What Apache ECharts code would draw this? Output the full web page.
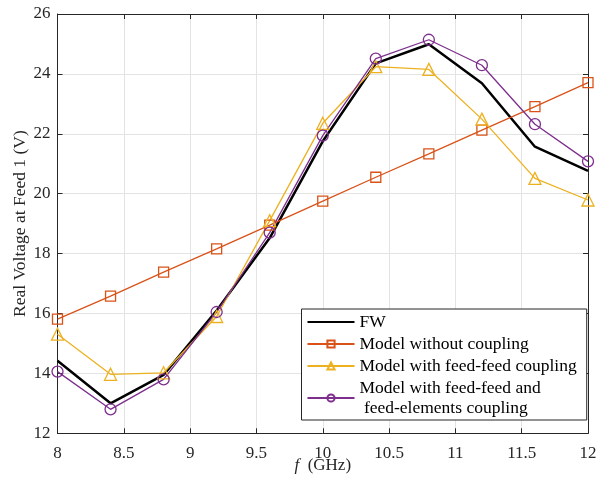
<!DOCTYPE html>
<html>
<head>
<meta charset="utf-8">
<script src="https://cdn.jsdelivr.net/npm/echarts@6/dist/echarts.min.js"></script>
<style>html,body{margin:0;padding:0;background:#fff}#c{width:600px;height:482px}</style>
</head>
<body>
<div id="c"></div>
<script>
var freqs = [8, 8.4, 8.8, 9.2, 9.6, 10, 10.4, 10.8, 11.2, 11.6, 12];
var fw = [14.42, 13.00, 13.95, 16.10, 18.52, 21.75, 24.35, 24.99, 23.69, 21.57, 20.76];
var noCoupling = [15.81, 16.58, 17.38, 18.16, 18.95, 19.75, 20.55, 21.33, 22.12, 22.91, 23.71];
var feedFeed = [15.31, 13.97, 14.02, 15.90, 19.10, 22.35, 24.24, 24.15, 22.49, 20.51, 19.79];
var feedFeedElem = [14.06, 12.80, 13.80, 16.05, 18.70, 21.94, 24.51, 25.14, 24.29, 22.32, 21.08];
var seriesNames = ['FW', 'Model without coupling', 'Model with feed-feed coupling', 'Model with feed-feed and\n feed-elements coupling'];
var xTicks = [8, 8.5, 9, 9.5, 10, 10.5, 11, 11.5, 12];
var yTicks = [12, 14, 16, 18, 20, 22, 24, 26];

function pairs(ys){ return freqs.map(function(x,i){ return [x, ys[i]]; }); }

var font = '"Liberation Serif", "Times New Roman", serif';
var axisCol = '#262626';
var chart = echarts.init(document.getElementById('c'));

function mk(name, data, color, width, symbol, size){
  return {
    name: name, type: 'line', data: pairs(data),
    symbol: symbol, symbolSize: size,
    lineStyle: {color: color, width: width},
    itemStyle: {color: 'rgba(255,255,255,0)', borderColor: color, borderWidth: 1.3},
    emphasis: {disabled: true}, animation: false,
    xAxisIndex: 0, yAxisIndex: 0
  };
}

var baseX = {
  type: 'value', min: 8, max: 12, interval: 0.5,
  axisLine: {show: true, lineStyle: {color: axisCol, width: 1}},
  axisTick: {show: true, inside: true, length: 5, lineStyle: {color: axisCol}},
  splitLine: {show: false}
};
var baseY = {
  type: 'value', min: 12, max: 26, interval: 2,
  axisLine: {show: true, lineStyle: {color: axisCol, width: 1}},
  axisTick: {show: true, inside: true, length: 5, lineStyle: {color: axisCol}},
  splitLine: {show: false}
};

chart.setOption({
  backgroundColor: '#fff',
  animation: false,
  grid: {left: 57.5, right: 12, top: 14, bottom: 48.7, containLabel: false, outerBoundsMode: 'none'},
  xAxis: [
    Object.assign({}, baseX, {
      position: 'bottom',
      splitLine: {show: true, lineStyle: {color: '#e3e3e3', width: 1}},
      axisLabel: {color: axisCol, fontFamily: font, fontSize: 17, margin: 12,
        formatter: function(v){ return xTicks.indexOf(v) >= 0 ? String(v) : ''; }},
      name: '{i|f}  (GHz)', nameLocation: 'middle', nameGap: 24, nameMoveOverlap: false,
      nameTextStyle: {color: axisCol, fontFamily: font, fontSize: 17,
        rich: {i: {fontStyle: 'italic', fontFamily: font, fontSize: 17, color: axisCol}}}
    }),
    Object.assign({}, baseX, {position: 'top', axisLabel: {show: false}})
  ],
  yAxis: [
    Object.assign({}, baseY, {
      position: 'left',
      splitLine: {show: true, lineStyle: {color: '#e3e3e3', width: 1}},
      axisLabel: {color: axisCol, fontFamily: font, fontSize: 17, margin: 7,
        formatter: function(v){ return yTicks.indexOf(v) >= 0 ? String(v) : ''; }},
      name: 'Real Voltage at Feed 1 (V)', nameLocation: 'middle', nameGap: 28, nameMoveOverlap: false,
      nameTextStyle: {color: axisCol, fontFamily: font, fontSize: 17.5}
    }),
    Object.assign({}, baseY, {position: 'right', axisLabel: {show: false}})
  ],
  legend: {
    orient: 'vertical', left: 301.5, top: 309,
    padding: [3, 10, 2, 5],
    backgroundColor: '#fff', borderColor: axisCol, borderWidth: 1,
    itemWidth: 47, itemHeight: 9, itemGap: 2,
    textStyle: {color: '#000', fontFamily: font, fontSize: 17.5, lineHeight: 20},
    data: [{name: seriesNames[0], itemStyle: {opacity: 0}}, seriesNames[1], seriesNames[2], seriesNames[3]],
    selectedMode: false
  },
  series: [
    mk(seriesNames[0], fw, '#000000', 2.5, 'none', 0),
    mk(seriesNames[1], noCoupling, '#D95319', 1.3, 'rect', 10),
    mk(seriesNames[2], feedFeed, '#EDB120', 1.3, 'triangle', 12),
    mk(seriesNames[3], feedFeedElem, '#7E2F8E', 1.3, 'circle', 11)
  ]
});
</script>
</body>
</html>
